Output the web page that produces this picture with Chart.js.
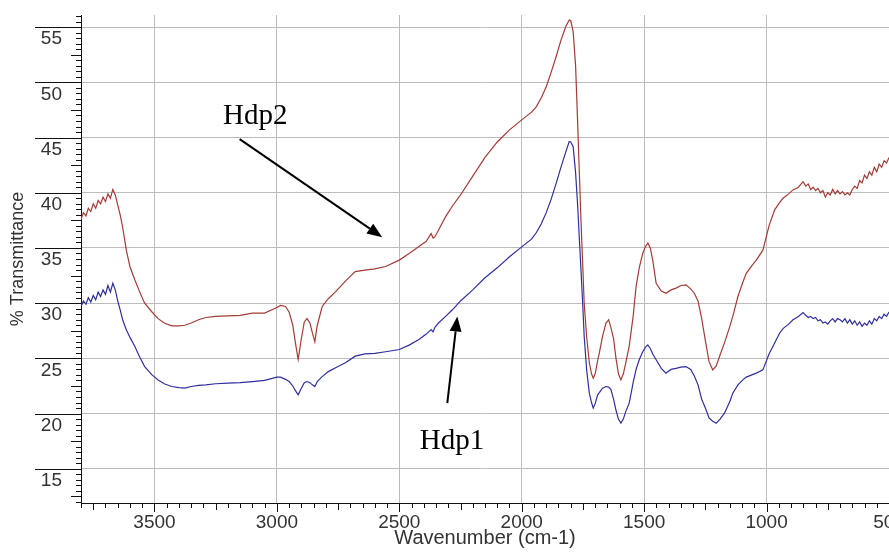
<!DOCTYPE html>
<html>
<head>
<meta charset="utf-8">
<title>FTIR Hdp1 / Hdp2</title>
<script src="https://cdn.jsdelivr.net/npm/chart.js@4.4.0/dist/chart.umd.min.js"></script>
<style>
  html, body { margin: 0; padding: 0; background: #fff; overflow: hidden; }
  canvas { display: block; }
</style>
</head>
<body>
<canvas id="ftir" width="889" height="552"></canvas>
<script>
// wavenumber grid (cm-1), shared by both spectra
const wavenumbers = [
  3800, 3790, 3780, 3770, 3760, 3750, 3740, 3730, 3720, 3710, 3700, 3690, 3680, 3670, 3660, 3650, 3640, 3630,
  3615, 3600, 3580, 3560, 3540, 3510, 3485, 3460, 3430, 3400, 3376, 3350, 3320, 3290, 3250, 3200, 3150, 3100, 3050, 3000,
  2985, 2965, 2950, 2935, 2925, 2913, 2900, 2888, 2877, 2865, 2855, 2845, 2835, 2815, 2790, 2760, 2720, 2680, 2640, 2600,
  2556, 2500, 2460, 2420, 2390, 2370, 2362, 2355, 2340, 2311, 2283, 2250, 2200, 2150, 2100, 2050, 2000, 1960, 1940, 1920,
  1900, 1880, 1860, 1840, 1820, 1806, 1800, 1790, 1780, 1772, 1765, 1758, 1750, 1745, 1735, 1724, 1715, 1708, 1700, 1690,
  1683, 1670, 1656, 1645, 1636, 1625, 1615, 1605, 1595, 1585, 1575, 1561, 1545, 1533, 1520, 1506, 1495, 1485, 1475, 1465,
  1451, 1430, 1411, 1390, 1370, 1350, 1329, 1310, 1295, 1280, 1265, 1250, 1235, 1220, 1206, 1190, 1172, 1150, 1138, 1117,
  1097, 1083, 1060, 1042, 1015, 990, 967, 947, 933, 910, 892, 870, 851,
  840, 830, 820, 810, 800, 790, 780, 770, 760, 750, 740, 730, 720, 710, 700, 690, 680, 670, 660, 650,
  640, 630, 620, 610, 600, 590, 580, 570, 560, 550, 540, 530, 520, 510, 500
];

// % transmittance, lower trace (blue)
const hdp1 = [
  29.7, 30.2, 29.9, 30.5, 30.1, 30.7, 30.3, 31.0, 30.6, 31.2, 30.8, 31.6, 31.0, 31.8, 31.2, 30.2, 29.4, 28.5,
  27.6, 26.9, 26.07, 25.1, 24.26, 23.5, 23.05, 22.7, 22.45, 22.35, 22.3, 22.45, 22.55, 22.6, 22.7, 22.75, 22.8, 22.9, 23.0, 23.3,
  23.3, 23.1, 22.9, 22.5, 22.1, 21.7, 22.3, 22.8, 22.9, 22.8, 22.6, 22.45, 22.9, 23.35, 23.8, 24.15, 24.6, 25.2, 25.4, 25.45,
  25.6, 25.8, 26.2, 26.7, 27.2, 27.6, 27.4, 27.8, 28.2, 28.8, 29.4, 30.2, 31.2, 32.3, 33.2, 34.2, 35.1, 35.8, 36.4, 37.2,
  38.2, 39.4, 40.8, 42.3, 43.7, 44.64, 44.6, 44.2, 41.8, 39.0, 36.0, 33.0, 29.5, 27.0, 24.0, 21.85, 21.0, 20.5, 20.9, 21.7,
  21.9, 22.3, 22.45, 22.4, 22.2, 21.3, 20.3, 19.5, 19.13, 19.5, 20.2, 20.94, 22.8, 24.0, 24.87, 25.6, 26.0, 26.22, 25.9, 25.4,
  24.87, 24.1, 23.66, 24.0, 24.1, 24.2, 24.26, 24.0, 23.4, 22.6, 21.3, 20.5, 19.6, 19.3, 19.13, 19.5, 20.04, 21.1, 21.85, 22.6,
  23.05, 23.3, 23.5, 23.66, 23.96, 25.4, 26.4, 27.28, 27.7, 28.1, 28.49, 28.8, 29.15,
  28.9, 28.7, 28.8, 28.6, 28.7, 28.4, 28.5, 28.2, 28.3, 28.1, 28.4, 28.6, 28.3, 28.6, 28.5, 28.3, 28.6, 28.2, 28.5, 28.1,
  28.4, 28.0, 28.3, 27.9, 28.2, 28.0, 28.4, 28.1, 28.6, 28.4, 28.8, 28.6, 29.0, 28.8, 29.2
];

// % transmittance, upper trace (red)
const hdp2 = [
  37.6, 38.2, 37.9, 38.6, 38.3, 39.0, 38.6, 39.3, 39.0, 39.6, 39.2, 39.9, 39.5, 40.3, 39.8, 38.9, 38.0, 36.9,
  34.8, 33.3, 32.1, 31.0, 30.0, 29.2, 28.6, 28.2, 27.95, 27.95, 28.0, 28.2, 28.5, 28.7, 28.8, 28.85, 28.9, 29.1, 29.1, 29.6,
  29.8, 29.7, 29.2, 28.0, 26.5, 24.9, 26.8, 28.3, 28.6, 28.2, 27.3, 26.5, 28.0, 29.7, 30.4, 31.05, 32.0, 32.86, 33.0, 33.1,
  33.32, 33.9, 34.5, 35.13, 35.6, 36.3, 35.9, 36.0, 36.6, 37.84, 38.8, 39.8, 41.5, 43.2, 44.6, 45.7, 46.6, 47.3, 47.8, 48.6,
  49.6, 50.9, 52.3, 53.8, 55.05, 55.65, 55.6, 54.6, 51.5, 46.6, 42.0, 37.5, 33.0, 30.0, 27.0, 24.6, 23.6, 23.2, 23.6, 24.8,
  25.5, 27.0, 28.2, 28.5, 27.8, 26.8, 25.0, 23.6, 23.05, 23.6, 24.6, 26.1, 28.8, 31.5, 33.2, 34.5, 35.1, 35.45, 35.0, 33.9,
  31.8, 31.1, 30.9, 31.2, 31.36, 31.6, 31.66, 31.3, 30.9, 30.2, 28.6, 26.6, 24.7, 23.96, 24.3, 25.3, 26.4, 27.9, 28.8, 30.6,
  31.9, 32.7, 33.4, 33.9, 34.8, 37.0, 38.45, 39.1, 39.5, 39.9, 40.26, 40.5, 41.0,
  40.6, 40.8, 40.3, 40.5, 40.2, 40.4, 40.0, 40.2, 39.6, 40.0, 39.8, 40.3, 39.9, 40.2, 39.9, 40.1, 39.8, 40.0, 39.8, 40.3,
  40.6, 40.4, 41.1, 40.9, 41.6, 41.3, 41.9, 41.6, 42.3, 41.9, 42.6, 42.3, 42.9, 42.7, 43.2
];

const xTicks = [3500, 3000, 2500, 2000, 1500, 1000, 500];
const yTicks = [15, 20, 25, 30, 35, 40, 45, 50, 55];

// callouts, positions in data units [cm-1, %T]
const callouts = [
  { text: 'Hdp2', at: [3220, 46.2], from: [3152, 44.86], to: [2570, 35.98] },
  { text: 'Hdp1', at: [2416, 16.78], from: [2304, 20.94], to: [2263, 28.79] }
];

const labelFont = "'Liberation Sans', Arial, sans-serif";

// minor/major tick marks outside the axes + the arrow callouts
const axisMarks = {
  id: 'axisMarks',
  afterDraw(chart) {
    const { ctx, chartArea: area, scales: { x, y } } = chart;
    ctx.save();
    ctx.strokeStyle = '#111';
    ctx.lineWidth = 1;
    ctx.beginPath();
    for (let v = 12; v <= 56; v += 0.5) {
      const py = Math.round(y.getPixelForValue(v)) + 0.5;
      let len = 5;
      if (v % 5 === 0) len = 46;
      else if (v % 2.5 === 0) len = 10;
      ctx.moveTo(area.left - len, py);
      ctx.lineTo(area.left, py);
    }
    for (let w = 500; w <= 3800; w += 50) {
      const px = Math.round(x.getPixelForValue(w)) + 0.5;
      let len = 5;
      if (w % 500 === 0) len = 9;
      else if (w % 250 === 0) len = 7;
      ctx.moveTo(px, area.bottom);
      ctx.lineTo(px, area.bottom + len);
    }
    ctx.stroke();

    callouts.forEach(c => {
      const x0 = x.getPixelForValue(c.from[0]), y0 = y.getPixelForValue(c.from[1]);
      const x1 = x.getPixelForValue(c.to[0]), y1 = y.getPixelForValue(c.to[1]);
      const ang = Math.atan2(y1 - y0, x1 - x0);
      const head = 15, half = 6;
      const bx = x1 - head * Math.cos(ang), by = y1 - head * Math.sin(ang);
      ctx.strokeStyle = '#000';
      ctx.fillStyle = '#000';
      ctx.lineWidth = 2;
      ctx.beginPath();
      ctx.moveTo(x0, y0);
      ctx.lineTo(bx, by);
      ctx.stroke();
      ctx.beginPath();
      ctx.moveTo(x1, y1);
      ctx.lineTo(bx + half * Math.sin(ang), by - half * Math.cos(ang));
      ctx.lineTo(bx - half * Math.sin(ang), by + half * Math.cos(ang));
      ctx.closePath();
      ctx.fill();

      ctx.font = "29px 'Liberation Serif', 'Times New Roman', serif";
      ctx.textAlign = 'left';
      ctx.textBaseline = 'alphabetic';
      ctx.fillText(c.text, x.getPixelForValue(c.at[0]), y.getPixelForValue(c.at[1]));
    });
    ctx.restore();
  }
};

new Chart(document.getElementById('ftir'), {
  type: 'line',
  data: {
    datasets: [
      {
        label: 'Hdp2',
        data: wavenumbers.map((w, i) => ({ x: w, y: hdp2[i] })),
        borderColor: '#a33b35',
        borderWidth: 1.2,
        pointRadius: 0,
        tension: 0
      },
      {
        label: 'Hdp1',
        data: wavenumbers.map((w, i) => ({ x: w, y: hdp1[i] })),
        borderColor: '#2f2f9e',
        borderWidth: 1.2,
        pointRadius: 0,
        tension: 0
      }
    ]
  },
  options: {
    responsive: false,
    animation: false,
    layout: { padding: { top: 15, left: 0, right: 0, bottom: 0 } },
    plugins: {
      legend: { display: false },
      tooltip: { enabled: false }
    },
    scales: {
      x: {
        type: 'linear',
        reverse: true,
        min: 500,
        max: 3800,
        afterBuildTicks: s => { s.ticks = xTicks.map(v => ({ value: v })); },
        afterFit: s => { s.height = 49; s.paddingLeft = 0; s.paddingRight = 0; },
        grid: { color: '#bcbcbc', lineWidth: 1, drawTicks: false },
        border: { color: '#111', width: 1 },
        ticks: {
          padding: 8,
          maxRotation: 0,
          autoSkip: false,
          color: '#333',
          font: { family: labelFont, size: 19 },
          callback: v => String(v)
        },
        title: {
          display: true,
          text: 'Wavenumber (cm-1)',
          color: '#333',
          padding: { top: -5 },
          font: { family: labelFont, size: 20, lineHeight: 1 }
        }
      },
      y: {
        min: 11.9,
        max: 56.1,
        afterBuildTicks: s => { s.ticks = yTicks.map(v => ({ value: v })); },
        afterFit: s => { s.width = 81; s.paddingTop = 0; s.paddingBottom = 0; },
        grid: { color: '#bcbcbc', lineWidth: 1, drawTicks: false },
        border: { color: '#111', width: 1 },
        ticks: {
          padding: 19,
          labelOffset: 12,
          color: '#333',
          font: { family: labelFont, size: 19 },
          callback: v => String(v)
        },
        title: {
          display: true,
          text: '% Transmittance',
          color: '#333',
          padding: { top: 9 },
          font: { family: labelFont, size: 18, lineHeight: 1 }
        }
      }
    }
  },
  plugins: [axisMarks]
});
</script>
</body>
</html>
